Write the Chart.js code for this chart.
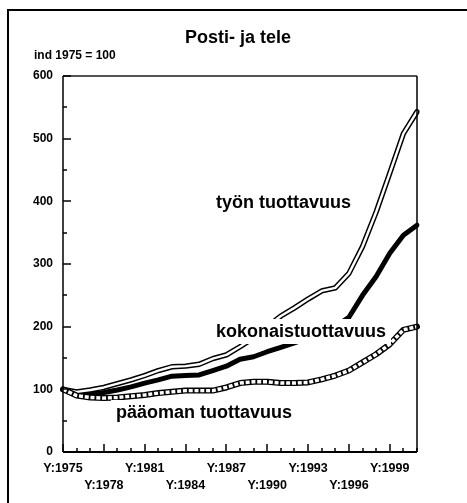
<!DOCTYPE html>
<html>
<head>
<meta charset="utf-8">
<script src="https://cdn.jsdelivr.net/npm/chart.js@4/dist/chart.umd.min.js"></script>
<style>
html,body{margin:0;padding:0;background:#fff;}
</style>
</head>
<body>
<canvas id="myChart" width="467" height="503"></canvas>
<script>
// vuodet ja indeksit (1975 = 100)
const vuodet = ['1975','1976','1977','1978','1979','1980','1981','1982','1983','1984','1985','1986','1987','1988',
  '1989','1990','1991','1992','1993','1994','1995','1996','1997','1998','1999','2000','2001']
const tyon = [100, 96, 99, 103, 109, 115, 122, 130, 136, 137, 140, 149, 155, 168,
  182, 200, 217, 230, 244, 257, 262, 285, 328, 383, 445, 508, 543]
const kokonais = [100, 92, 92, 95, 99, 104, 110, 115, 121, 122, 123, 130, 137, 148,
  152, 160, 167, 174, 182, 190, 200, 215, 250, 280, 317, 346, 362]
const paaoma = [100, 90, 87, 86, 87, 89, 91, 94, 96, 98, 98, 98, 103, 110,
  112, 112, 110, 110, 111, 116, 122, 130, 143, 156, 172, 195, 200]
const yMin = 0, yMax = 600, yStep = 100

const fontti = 'Liberation Sans, Arial, sans-serif'

// kehykset, otsikot, tikit ja tekstit
const kehys = {
  id: 'kehys',
  beforeDraw(chart) {
    const c = chart.ctx
    c.save()
    c.fillStyle = '#fff'
    c.fillRect(0, 0, chart.width, chart.height)
    c.strokeStyle = '#000'
    c.lineWidth = 2
    c.beginPath()
    c.moveTo(8, 503); c.lineTo(8, 10); c.lineTo(467, 10)
    c.stroke()
    c.fillStyle = '#000'
    c.font = 'bold 18px ' + fontti
    c.textAlign = 'center'
    c.fillText('Posti- ja tele', 238, 43)
    c.font = 'bold 12px ' + fontti
    c.textAlign = 'left'
    c.fillText('ind 1975 = 100', 34, 59)
    c.restore()
  },
  afterDatasetsDraw(chart) {
    const c = chart.ctx
    const a = chart.chartArea
    const x = chart.scales.x, y = chart.scales.y
    c.save()
    // tekstit valkoisella pohjalla
    const tekstit = [
      ['työn tuottavuus', 216, 208],
      ['kokonaistuottavuus', 216, 337],
      ['pääoman tuottavuus', 116, 418]
    ]
    c.font = 'bold 18px ' + fontti
    c.textAlign = 'left'
    tekstit.forEach(t => {
      const w = c.measureText(t[0]).width
      c.fillStyle = '#fff'
      c.fillRect(t[1] - 5, t[2] - 18, w + 10, 25)
      c.fillStyle = '#000'
      c.fillText(t[0], t[1], t[2])
    })
    // kehys
    c.lineWidth = 2
    c.strokeStyle = '#555'
    c.beginPath(); c.moveTo(a.left, a.top); c.lineTo(a.right, a.top); c.stroke()
    c.strokeStyle = '#000'
    c.lineWidth = 1.5
    c.beginPath(); c.moveTo(a.right, a.top); c.lineTo(a.right, a.bottom); c.stroke()
    c.beginPath(); c.moveTo(a.left, a.top); c.lineTo(a.left, a.bottom); c.stroke()
    c.lineWidth = 2
    c.beginPath(); c.moveTo(a.left, a.bottom); c.lineTo(a.right, a.bottom); c.stroke()
    // tikit sisäänpäin
    c.lineWidth = 1.5
    for (let v = yMin; v <= yMax; v += yStep / 2) {
      const py = Math.round(y.getPixelForValue(v))
      const len = v % yStep ? 4 : 8
      c.beginPath(); c.moveTo(a.left, py); c.lineTo(a.left + len, py); c.stroke()
    }
    vuodet.forEach((v, i) => {
      const px = Math.round(x.getPixelForValue(i))
      const len = i % 3 ? 4 : 8
      c.beginPath(); c.moveTo(px, a.bottom); c.lineTo(px, a.bottom - len); c.stroke()
    })
    c.restore()
  }
}

document.addEventListener('DOMContentLoaded', function() {
  'use strict'
  const ctx = document.getElementById('myChart')
  const perus = { pointRadius: 0, tension: 0, fill: false, borderJoinStyle: 'round' }
  // eslint-disable-next-line no-unused-vars
  const myChart = new Chart(ctx, {
    type: 'line',
    data: {
      labels: vuodet,
      datasets: [
        { ...perus, label: 'kokonaistuottavuus', data: kokonais, borderColor: '#000', borderWidth: 5, borderCapStyle: 'round', order: 5 },
        { ...perus, label: 'työn tuottavuus', data: tyon, borderColor: '#000', borderWidth: 5.4, borderCapStyle: 'round', order: 4 },
        { ...perus, label: 'työn tuottavuus (sisä)', data: tyon, borderColor: '#fff', borderWidth: 2.4, borderCapStyle: 'round', order: 3 },
        { ...perus, label: 'pääoman tuottavuus', data: paaoma, borderColor: '#000', borderWidth: 6, borderCapStyle: 'round', order: 2 },
        { ...perus, label: 'pääoman tuottavuus (sisä)', data: paaoma, borderColor: '#fff', borderWidth: 3.4, borderDash: [4, 1.8], borderCapStyle: 'butt', order: 1 }
      ]
    },
    plugins: [kehys],
    options: {
      responsive: false,
      animation: false,
      devicePixelRatio: 1,
      layout: { padding: { top: 76, right: 50, left: 0, bottom: 0 } },
      plugins: { legend: { display: false }, tooltip: { enabled: false }, title: { display: false } },
      scales: {
        x: {
          type: 'category',
          offset: false,
          grid: { display: false, drawTicks: false },
          border: { display: false },
          ticks: {
            autoSkip: false, maxRotation: 0, padding: 8, color: '#000',
            font: { family: fontti, size: 12.5, weight: 'bold', lineHeight: 1.35 },
            callback: function(val, i) {
              const v = vuodet[i]
              if (i % 6 === 0) return 'Y:' + v
              if (i % 6 === 3) return ['', 'Y:' + v]
              return ''
            }
          },
          afterFit: function(s) { s.height = 51 }
        },
        y: {
          min: yMin, max: yMax,
          grid: { display: false, drawTicks: false },
          border: { display: false },
          ticks: {
            stepSize: yStep, padding: 10, color: '#000',
            font: { family: fontti, size: 12, weight: 'bold' }
          },
          afterFit: function(s) { s.width = 63 }
        }
      }
    }
  })
})
</script>
</body>
</html>
